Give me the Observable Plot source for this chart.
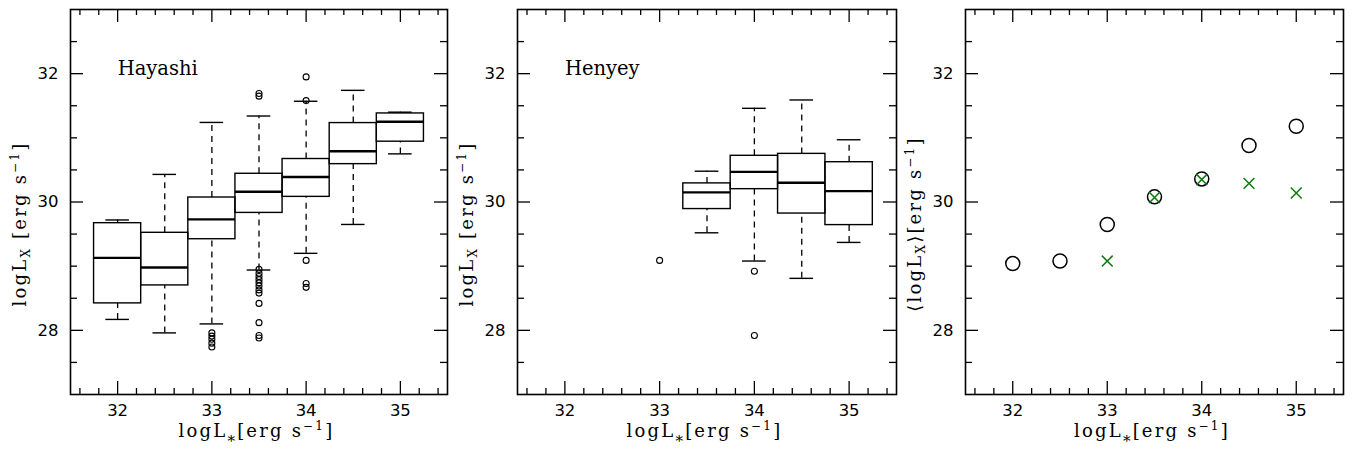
<!DOCTYPE html>
<html><head><meta charset="utf-8">
<script src="https://cdn.jsdelivr.net/npm/d3@7"></script>
<script src="https://cdn.jsdelivr.net/npm/@observablehq/plot@0.6"></script>
<style>
body{margin:0;background:#fff}
#wrap{position:relative;width:1354px;height:452px;overflow:hidden;background:#fff}
#wrap svg{position:absolute;top:0}
</style></head><body><div id="wrap"></div>
<script>
// ---- tick labels ----
const xTicks = [32, 33, 34, 35];
const yTicks = [28, 30, 32];

// ---- Hayashi panel: box statistics per logL* bin ----
const hayX   = [32, 32.5, 33, 33.5, 34, 34.5, 35];
const hayLo  = [28.17, 27.96, 28.10, 28.94, 29.20, 29.65, 30.75];
const hayQ1  = [28.42, 28.70, 29.42, 29.83, 30.08, 30.59, 30.94];
const hayMed = [29.13, 28.98, 29.73, 30.16, 30.39, 30.79, 31.25];
const hayQ3  = [29.67, 29.52, 30.07, 30.44, 30.67, 31.23, 31.38];
const hayHi  = [29.72, 30.43, 31.24, 31.34, 31.57, 31.74, 31.40];
const hayOutX = [33, 33, 33, 33, 33,
  33.5, 33.5, 33.5, 33.5, 33.5, 33.5, 33.5, 33.5, 33.5, 33.5, 33.5, 33.5, 33.5, 33.5,
  34, 34, 34, 34, 34];
const hayOutY = [27.96, 27.91, 27.86, 27.80, 27.74,
  31.69, 31.65, 28.95, 28.89, 28.84, 28.79, 28.74, 28.69, 28.63, 28.58, 28.42, 28.12, 27.92, 27.88,
  31.95, 31.58, 29.09, 28.73, 28.67];

// ---- Henyey panel ----
const henX   = [33.5, 34, 34.5, 35];
const henLo  = [29.52, 29.08, 28.81, 29.37];
const henQ1  = [29.89, 30.20, 29.82, 29.64];
const henMed = [30.15, 30.47, 30.30, 30.17];
const henQ3  = [30.29, 30.72, 30.75, 30.62];
const henHi  = [30.48, 31.46, 31.59, 30.97];
const henOutX = [33, 34, 34];
const henOutY = [29.09, 28.92, 27.92];

// ---- Mean panel ----
const meanAllX = [32, 32.5, 33, 33.5, 34, 34.5, 35];
const meanAllY = [29.04, 29.08, 29.65, 30.08, 30.36, 30.88, 31.18];
const meanHenX = [33, 33.5, 34, 34.5, 35];
const meanHenY = [29.08, 30.07, 30.35, 30.29, 30.14];

// ---- layout ----
const H = 452, MT = 9, MB = 58;
const PH = H - MT - MB;
const panels = [
  {left: 0,   width: 451, ml: 70, mr: 4},
  {left: 451, width: 449, ml: 66, mr: 4},
  {left: 900, width: 454, ml: 65, mr: 11}
];
const xMinor = d3.range(158, 178).map(d => d / 5).filter(v => !xTicks.some(t => Math.abs(t - v) < 1e-9));
const yMinor = d3.range(55, 66).map(d => d / 2).filter(v => !yTicks.includes(v));
const SERIF = "'DejaVu Serif', serif";
const SANS = "'DejaVu Sans', sans-serif";

function boxRows(xs, lo, q1, med, q3, hi) {
  return xs.map((x, i) => ({x, lo: lo[i], q1: q1[i], med: med[i], q3: q3[i], hi: hi[i]}));
}
function boxMarks(rows) {
  const hw = 0.25, cw = 0.125;
  return [
    Plot.ruleX(rows, {x: "x", y1: "q3", y2: "hi", stroke: "black", strokeWidth: 1.3, strokeDasharray: "6,5"}),
    Plot.ruleX(rows, {x: "x", y1: "lo", y2: "q1", stroke: "black", strokeWidth: 1.3, strokeDasharray: "6,5"}),
    Plot.ruleY(rows, {y: "hi", x1: d => d.x - cw, x2: d => d.x + cw, stroke: "black", strokeWidth: 1.4}),
    Plot.ruleY(rows, {y: "lo", x1: d => d.x - cw, x2: d => d.x + cw, stroke: "black", strokeWidth: 1.4}),
    Plot.rect(rows, {x1: d => d.x - hw, x2: d => d.x + hw, y1: "q1", y2: "q3", fill: "none", stroke: "black", strokeWidth: 1.4}),
    Plot.ruleY(rows, {y: "med", x1: d => d.x - hw, x2: d => d.x + hw, stroke: "black", strokeWidth: 2.4})
  ];
}
function frameMarks(p) {
  const pw = p.width - p.ml - p.mr;
  return [
    Plot.tickX(xTicks, {x: d => d, insetTop: PH - 13, stroke: "black", strokeWidth: 1.3}),
    Plot.tickX(xTicks, {x: d => d, insetBottom: PH - 13, stroke: "black", strokeWidth: 1.3}),
    Plot.tickX(xMinor, {x: d => d, insetTop: PH - 6, stroke: "black", strokeWidth: 1.3}),
    Plot.tickX(xMinor, {x: d => d, insetBottom: PH - 6, stroke: "black", strokeWidth: 1.3}),
    Plot.tickY(yTicks, {y: d => d, insetRight: pw - 13, stroke: "black", strokeWidth: 1.3}),
    Plot.tickY(yTicks, {y: d => d, insetLeft: pw - 13, stroke: "black", strokeWidth: 1.3}),
    Plot.tickY(yMinor, {y: d => d, insetRight: pw - 7, stroke: "black", strokeWidth: 1.3}),
    Plot.tickY(yMinor, {y: d => d, insetLeft: pw - 7, stroke: "black", strokeWidth: 1.3}),
    Plot.frame({stroke: "black", strokeWidth: 1.6}),
    Plot.axisX(xTicks, {tickSize: 0, tickPadding: 10, label: null, tickFormat: d3.format("d"), fontSize: 16.5, fontFamily: SANS, fill: "black"}),
    Plot.axisY(yTicks, {tickSize: 0, tickPadding: 12, label: null, tickFormat: d3.format("d"), fontSize: 16.5, fontFamily: SANS, fill: "black"})
  ];
}
function makePlot(p, marks) {
  return Plot.plot({
    width: p.width, height: H,
    marginLeft: p.ml, marginRight: p.mr, marginTop: MT, marginBottom: MB,
    x: {domain: [31.5, 35.5]},
    y: {domain: [27, 33]},
    style: {background: "white", color: "black", fontFamily: SANS, fontSize: "16px", overflow: "visible"},
    marks: [...marks, ...frameMarks(p)]
  });
}
// rich label helper (parts: [text, mode]) mode: "sub" | "sup" | "star" | undefined
function richText(svg, parts, attrs) {
  const t = d3.select(svg).append("text")
    .attr("font-family", SERIF).attr("font-size", 18).attr("fill", "black")
    .attr("letter-spacing", attrs.ls ?? 2.2).attr("text-anchor", "middle");
  if (attrs.transform) t.attr("transform", attrs.transform);
  else t.attr("x", attrs.x).attr("y", attrs.y);
  let shift = 0;
  for (const [s, mode] of parts) {
    const target = mode === "sub" ? 4 : mode === "star" ? 9 : mode === "sup" ? -7 : 0;
    t.append("tspan").attr("dy", target - shift)
      .attr("font-size", mode === "star" ? 15 : mode ? 12 : 18).text(s);
    shift = target;
  }
  return t;
}

const wrap = document.getElementById("wrap");
const specs = [
  {marks: [
    ...boxMarks(boxRows(hayX, hayLo, hayQ1, hayMed, hayQ3, hayHi)),
    Plot.dot(hayOutX.map((x, i) => ({x, y: hayOutY[i]})), {x: "x", y: "y", r: 3, stroke: "black", fill: "none", strokeWidth: 1.1}),
    Plot.text(["Hayashi"], {x: () => 32, y: () => 32, text: d => d, textAnchor: "start", lineAnchor: "bottom", fontFamily: SERIF, fontSize: 19.5, letterSpacing: "0.6px", fill: "black", dy: 1})
  ], ylab: [["logL"], ["X", "sub"], [" [erg s"], ["−1", "sup"], ["]"]]},
  {marks: [
    ...boxMarks(boxRows(henX, henLo, henQ1, henMed, henQ3, henHi)),
    Plot.dot(henOutX.map((x, i) => ({x, y: henOutY[i]})), {x: "x", y: "y", r: 3, stroke: "black", fill: "none", strokeWidth: 1.1}),
    Plot.text(["Henyey"], {x: () => 32, y: () => 32, text: d => d, textAnchor: "start", lineAnchor: "bottom", fontFamily: SERIF, fontSize: 19.5, letterSpacing: "0.6px", fill: "black", dy: 1})
  ], ylab: [["logL"], ["X", "sub"], [" [erg s"], ["−1", "sup"], ["]"]]},
  {marks: [
    Plot.dot(meanAllX.map((x, i) => ({x, y: meanAllY[i]})), {x: "x", y: "y", r: 7, stroke: "black", fill: "none", strokeWidth: 1.5}),
    Plot.dot(meanHenX.map((x, i) => ({x, y: meanHenY[i]})), {x: "x", y: "y", r: 5, symbol: "times", stroke: "#0b7a0b", strokeWidth: 1.5})
  ], ylab: [["⟨logL"], ["X", "sub"], ["⟩[erg s"], ["−1", "sup"], ["]"]]}
];
panels.forEach((p, i) => {
  const svg = makePlot(p, specs[i].marks);
  svg.style.left = p.left + "px";
  wrap.appendChild(svg);
  const cx = p.ml + (p.width - p.ml - p.mr) / 2;
  richText(svg, [["logL"], ["*", "star"], ["[erg s"], ["−1", "sup"], ["]"]], {x: cx - 2, y: 437});
  richText(svg, specs[i].ylab, {transform: `translate(${p.ml - 44},224) rotate(-90)`});
});
</script></body></html>
